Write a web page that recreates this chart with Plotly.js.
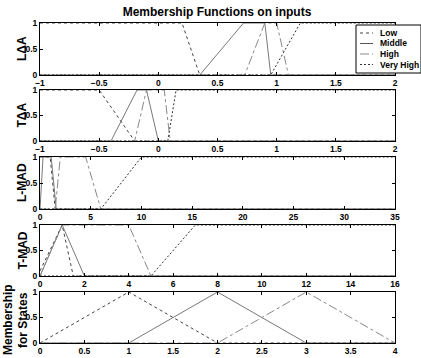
<!DOCTYPE html>
<html>
<head>
<meta charset="utf-8">
<script src="https://cdn.plot.ly/plotly-3.0.1.min.js"></script>
<style>html,body{margin:0;padding:0;background:#fff}#chart{width:421px;height:358px}</style>
</head>
<body>
<div id="chart"></div>
<script>
// ---- data ----
const mfNames = ['Low', 'Middle', 'High', 'Very High'];
const panelTitles = ['L\u0394A', 'T\u0394A', 'L-MAD', 'T-MAD'];
const statesTitle = ['Membership', 'for States'];
const chartTitle = 'Membership Functions on inputs';

// LΔA
const laaLowX = [-1, 0.2, 0.35, 2],            laaLowY = [1, 1, 0, 0];
const laaMidX = [-1, 0.35, 0.72, 0.9, 0.95, 2], laaMidY = [0, 0, 1, 1, 0, 0];
const laaHighX = [-1, 0.73, 0.9, 1.0, 1.1, 2],  laaHighY = [0, 0, 1, 1, 0, 0];
const laaVHighX = [-1, 0.95, 1.2, 2],           laaVHighY = [0, 0, 1, 1];
// TΔA
const taaLowX = [-1, -0.5, -0.2, 2],              taaLowY = [1, 1, 0, 0];
const taaMidX = [-1, -0.4, -0.18, -0.1, 0, 2],    taaMidY = [0, 0, 1, 1, 0, 0];
const taaHighX = [-1, -0.2, -0.1, 0.05, 0.1, 2],  taaHighY = [0, 0, 1, 1, 0, 0];
const taaVHighX = [-1, 0.08, 0.15, 2],            taaVHighY = [0, 0, 1, 1];
// L-MAD
const lmadLowX = [0, 1, 1.5, 35],           lmadLowY = [1, 1, 0, 0];
const lmadMidX = [0, 0.3, 1.1, 1.6, 35],    lmadMidY = [0, 1, 1, 0, 0];
const lmadHighX = [0, 1.5, 2, 4.5, 6, 35],  lmadHighY = [0, 0, 1, 1, 0, 0];
const lmadVHighX = [0, 6, 10, 35],          lmadVHighY = [0, 0, 1, 1];
// T-MAD
const tmadLowX = [0, 1, 1.5, 16],     tmadLowY = [0.1, 1, 0, 0];
const tmadMidX = [0, 1, 2, 16],       tmadMidY = [0, 1, 0, 0];
const tmadHighX = [0, 1, 4, 5, 16],   tmadHighY = [0, 1, 1, 0, 0];
const tmadVHighX = [0, 5, 7, 16],     tmadVHighY = [0, 0, 1, 1];
// States
const st1X = [0, 1, 2, 4],    st1Y = [0, 1, 0, 0];
const st2X = [0, 1, 2, 3, 4], st2Y = [0, 0, 1, 0, 0];
const st3X = [0, 2, 3, 4],    st3Y = [0, 0, 1, 0];

// ---- styles ----
const W = 421, H = 358;
const mfStyle = [
  {color: '#444', dash: 'dot', width: 1},
  {color: '#555', dash: 'solid', width: 0.8},
  {color: '#888', dash: 'dashdot', width: 1},
  {color: '#333', dash: '2px,2px', width: 1}
];
const boldFont = {family: 'Liberation Sans, Arial, sans-serif', color: '#000', weight: 700};

const panels = [
  {xs: [laaLowX, laaMidX, laaHighX, laaVHighX], ys: [laaLowY, laaMidY, laaHighY, laaVHighY]},
  {xs: [taaLowX, taaMidX, taaHighX, taaVHighX], ys: [taaLowY, taaMidY, taaHighY, taaVHighY]},
  {xs: [lmadLowX, lmadMidX, lmadHighX, lmadVHighX], ys: [lmadLowY, lmadMidY, lmadHighY, lmadVHighY]},
  {xs: [tmadLowX, tmadMidX, tmadHighX, tmadVHighX], ys: [tmadLowY, tmadMidY, tmadHighY, tmadVHighY]},
  {xs: [st1X, st2X, st3X], ys: [st1Y, st2Y, st3Y]}
];
const xRanges = [[-1, 2], [-1, 2], [0, 35], [0, 16], [0, 4]];
const xDticks = [0.5, 0.5, 5, 2, 0.5];
// pixel rows (top, bottom) of each panel
const rows = [[23, 75], [90, 141], [157, 209], [225, 276], [292, 343]];
const xPix = [40, 395];

const traces = [];
panels.forEach((p, i) => {
  const sfx = i === 0 ? '' : String(i + 1);
  p.xs.forEach((xv, k) => {
    const st = mfStyle[k];
    traces.push({
      type: 'scatter', mode: 'lines', x: xv, y: p.ys[k],
      xaxis: 'x' + sfx, yaxis: 'y' + sfx,
      line: {color: st.color, dash: st.dash, width: st.width},
      showlegend: false, hoverinfo: 'skip'
    });
  });
});

const layout = {
  width: W, height: H,
  margin: {l: 0, r: 0, t: 0, b: 0},
  paper_bgcolor: '#fff', plot_bgcolor: '#fff',
  showlegend: false,
  title: {text: chartTitle, x: 217 / W, xanchor: 'center', xref: 'paper',
          y: 1 - 12 / H, yref: 'container', yanchor: 'middle',
          font: Object.assign({size: 12}, boldFont)},
  shapes: [], annotations: []
};

rows.forEach((r, i) => {
  const sfx = i === 0 ? '' : String(i + 1);
  const common = {
    ticks: 'inside', ticklen: 3, tickwidth: 1, tickcolor: '#000',
    mirror: 'ticks', showline: true, linecolor: '#000', linewidth: 1,
    showgrid: false, zeroline: false, fixedrange: true,
    tickfont: Object.assign({size: 8.5}, boldFont)
  };
  layout['xaxis' + sfx] = Object.assign({}, common, {
    domain: [xPix[0] / W, xPix[1] / W], range: xRanges[i],
    tick0: xRanges[i][0], dtick: xDticks[i], anchor: 'y' + sfx
  });
  layout['yaxis' + sfx] = Object.assign({}, common, {
    domain: [1 - r[1] / H, 1 - r[0] / H], range: [0, 1],
    tick0: 0, dtick: 0.5, anchor: 'x' + sfx
  });
  if (i < 4) {
    layout.annotations.push({
      text: panelTitles[i], textangle: -90, showarrow: false,
      xref: 'paper', yref: 'paper', x: 22 / W, y: 1 - (r[0] + r[1]) / 2 / H,
      xanchor: 'center', yanchor: 'middle',
      font: Object.assign({size: 12}, boldFont)
    });
  } else {
    statesTitle.forEach((t, j) => {
      layout.annotations.push({
        text: t, textangle: -90, showarrow: false,
        xref: 'paper', yref: 'paper', x: (8 + 15 * j) / W, y: 1 - 320 / H,
        xanchor: 'center', yanchor: 'middle',
        font: Object.assign({size: 12}, boldFont)
      });
    });
  }
});

// manual legend (compact, as in the reference)
const lg = {x0: 356, x1: 421, y0: 25, y1: 73};
layout.shapes.push({type: 'rect', xref: 'paper', yref: 'paper',
  x0: lg.x0 / W, x1: lg.x1 / W, y0: 1 - lg.y1 / H, y1: 1 - lg.y0 / H,
  fillcolor: '#fff', line: {color: '#000', width: 1}, layer: 'above'});
mfNames.forEach((n, k) => {
  const yy = 33 + k * 10.5;
  const st = mfStyle[k];
  layout.shapes.push({type: 'line', xref: 'paper', yref: 'paper',
    x0: 360 / W, x1: 373 / W, y0: 1 - yy / H, y1: 1 - yy / H,
    line: {color: st.color, dash: st.dash, width: 1}, layer: 'above'});
  layout.annotations.push({text: n, showarrow: false, xref: 'paper', yref: 'paper',
    x: 378 / W, y: 1 - yy / H, xanchor: 'left', yanchor: 'middle',
    font: Object.assign({size: 8.5}, boldFont)});
});

Plotly.newPlot('chart', traces, layout, {displayModeBar: false, staticPlot: true});
</script>
</body>
</html>
